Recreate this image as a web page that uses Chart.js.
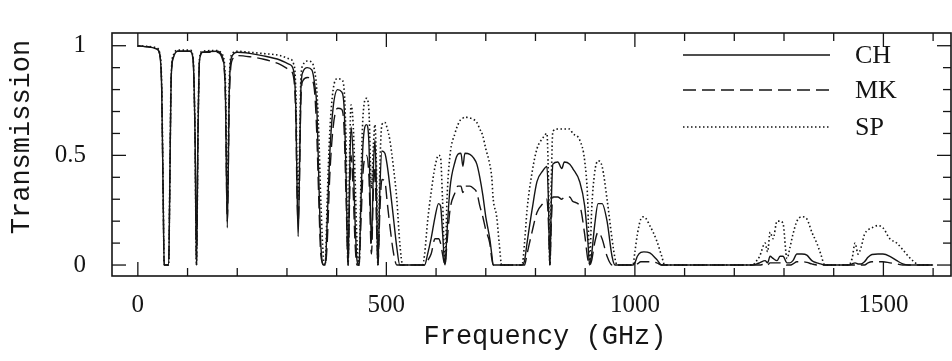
<!DOCTYPE html>
<html><head><meta charset="utf-8">
<script src="https://cdn.jsdelivr.net/npm/chart.js@4.4.1/dist/chart.umd.min.js"></script>
<style>html,body{margin:0;padding:0;background:#fff;}canvas{display:block;}</style>
</head><body>
<canvas id="c" width="952" height="361"></canvas>
<script>
// Frequency samples (GHz)
const freq = [0,20,38,44,48,51,53,62,64,67,72,80,105,111,115,118,121,124,130,160,170,176,180,184,189,200,225,250,286,305,313,318,320,322.5,325,328,332,341,350,356,360,364,368,374,377,381,386,393,402,410,415,419,423,426,429,433,437,441,445,449,453,460,465,470,474,477,480,483,487,491,497,502,507,514,521,527,533,573,577,583,590,598,605,609,613,618,622,628,638,644,650,654,658,668,675,682,688,694,700,708,712,715,722,727,732,773,778,783,793,803,815,823,826,829,832,835,845,853,858,869,875,889,899,905,909,913,919,926,934,944,954,960,964,996,1000,1005,1012,1018,1030,1044,1054,1060,1237,1245,1251,1262,1267,1272,1278,1286,1292,1298,1306,1312,1318,1326,1336,1346,1356,1366,1374,1382,1430,1437,1443,1449,1455,1462,1469,1477,1489,1499,1513,1527,1539,1550,1559,1573,1600];
// CH (solid)
const ch = [1.0,0.995,0.985,0.96,0.8,0.3,0,0,0.3,0.85,0.95,0.975,0.975,0.94,0.6,0,0.6,0.93,0.97,0.975,0.95,0.8,0.17,0.8,0.95,0.97,0.965,0.955,0.935,0.915,0.89,0.7,0.4,0.13,0.4,0.8,0.88,0.9,0.89,0.82,0.72,0.4,0.1,0,0,0.2,0.5,0.72,0.8,0.79,0.72,0.4,0,0.4,0.63,0.5,0.2,0.02,0,0.3,0.55,0.64,0.55,0.1,0.45,0.57,0.35,0,0.35,0.52,0.51,0.45,0.36,0.22,0.08,0,0,0,0,0.05,0.12,0.22,0.28,0.27,0.15,0,0.15,0.35,0.47,0.505,0.51,0.45,0.51,0.505,0.49,0.46,0.4,0.32,0.22,0.12,0.05,0,0,0,0,0,0.02,0.1,0.25,0.38,0.43,0.45,0.3,0,0.3,0.46,0.47,0.44,0.47,0.46,0.44,0.38,0.27,0.12,0,0.05,0.18,0.28,0.28,0.2,0.04,0,0,0,0.01,0.04,0.058,0.06,0.055,0.025,0,0,0,0.005,0.01,0.02,0.01,0.04,0.03,0.02,0.04,0.04,0.01,0.01,0.02,0.05,0.05,0.045,0.02,0.01,0.005,0,0,0.005,0.01,0.005,0.005,0.015,0.035,0.048,0.05,0.05,0.04,0.02,0.005,0,0,0,0];
// MK (dashed)
const mk = [1.0,0.995,0.985,0.96,0.8,0.3,0,0,0.3,0.85,0.95,0.975,0.975,0.94,0.6,0,0.6,0.93,0.97,0.97,0.94,0.78,0.2,0.75,0.93,0.955,0.95,0.94,0.915,0.89,0.86,0.65,0.35,0.2,0.35,0.75,0.84,0.855,0.845,0.78,0.6,0.3,0.05,0,0,0.1,0.4,0.63,0.715,0.71,0.62,0.3,0,0.3,0.5,0.35,0.1,0,0,0.2,0.42,0.5,0.4,0.05,0.35,0.45,0.2,0,0.25,0.39,0.38,0.28,0.18,0.06,0,0,0,0,0,0.02,0.05,0.12,0.12,0.1,0.05,0,0.1,0.25,0.33,0.36,0.36,0.33,0.36,0.36,0.35,0.33,0.27,0.22,0.16,0.1,0.03,0,0,0,0,0,0,0.05,0.15,0.24,0.28,0.3,0.2,0,0.2,0.31,0.31,0.3,0.31,0.31,0.29,0.27,0.14,0.03,0,0.02,0.1,0.15,0.12,0.04,0,0,0,0,0,0.005,0.015,0.015,0.015,0.01,0,0,0,0,0,0.005,0,0.01,0.01,0.01,0.01,0.01,0,0,0.005,0.015,0.015,0.012,0.005,0,0,0,0,0,0,0,0,0,0.01,0.015,0.015,0.015,0.01,0.005,0,0,0,0,0];
// SP (dotted)
const sp = [1.0,0.997,0.99,0.965,0.82,0.32,0,0,0.32,0.86,0.96,0.98,0.98,0.95,0.6,0,0.6,0.94,0.975,0.978,0.96,0.85,0.3,0.85,0.96,0.975,0.97,0.965,0.955,0.94,0.92,0.78,0.5,0.3,0.5,0.85,0.91,0.93,0.925,0.88,0.8,0.6,0.3,0.02,0,0.3,0.6,0.8,0.85,0.845,0.8,0.55,0,0.5,0.73,0.65,0.4,0.1,0,0.4,0.68,0.76,0.7,0.35,0.55,0.64,0.45,0,0.45,0.64,0.65,0.62,0.57,0.45,0.3,0.1,0,0,0.05,0.2,0.33,0.45,0.5,0.49,0.3,0,0.3,0.5,0.6,0.64,0.665,0.67,0.675,0.67,0.665,0.65,0.62,0.59,0.53,0.46,0.4,0.3,0.22,0.1,0,0,0.1,0.25,0.42,0.53,0.58,0.6,0.4,0,0.4,0.61,0.62,0.62,0.62,0.62,0.6,0.57,0.475,0.3,0,0.25,0.42,0.475,0.45,0.3,0.12,0.03,0,0,0.06,0.14,0.21,0.22,0.18,0.11,0.04,0,0,0.02,0.04,0.1,0.06,0.15,0.12,0.2,0.2,0.19,0.03,0.08,0.14,0.2,0.22,0.21,0.15,0.1,0.05,0,0,0.03,0.1,0.05,0.08,0.14,0.16,0.17,0.18,0.17,0.12,0.1,0.07,0.04,0.02,0,0];

const seriesNames = ['CH','MK','SP'];
const xTickValues = [0,500,1000,1500];
const xTickLabels = ['0','500','1000','1500'];
const yTickValues = [0,0.5,1];
const yTickLabels = ['0','0.5','1'];
const xMinorStep = 100, yMinorStep = 0.1;
const xTitle = 'Frequency (GHz)';
const yTitle = 'Transmission';

const INK = '#151515';
const dashes = [[], [13,6], [1.5,2.5]];
const pts = arr => freq.map((f,i)=>({x:f, y:arr[i]}));

const decor = {
  id:'decor',
  afterDatasetsDraw(chart){
    const {ctx, chartArea:a, scales:{x,y}} = chart;
    ctx.save();
    ctx.strokeStyle = INK;
    ctx.lineWidth = 1.6;
    ctx.strokeRect(a.left, a.top, a.right-a.left, a.bottom-a.top);
    ctx.lineWidth = 1.3;
    const seg=(x1,y1,x2,y2)=>{ctx.beginPath();ctx.moveTo(x1,y1);ctx.lineTo(x2,y2);ctx.stroke();};
    for(let v=0; v<=x.max; v+=xMinorStep){
      const px = x.getPixelForValue(v);
      const L = (v%500===0)?14:8;
      seg(px,a.bottom,px,a.bottom-L); seg(px,a.top,px,a.top+L);
    }
    for(let i=0;i*yMinorStep<=y.max+1e-9;i++){
      const py = y.getPixelForValue(i*yMinorStep);
      const L = (i%5===0)?14:8;
      seg(a.left,py,a.left+L,py); seg(a.right,py,a.right-L,py);
    }
    // legend
    const ds = chart.data.datasets;
    const lx0 = 683, lx1 = 830, ly = [55,90,127];
    ctx.font = '26px "Liberation Serif", serif';
    ctx.fillStyle = INK; ctx.textBaseline='middle'; ctx.textAlign='left';
    ds.forEach((d,i)=>{
      ctx.lineWidth = 1.5; ctx.setLineDash(d.borderDash||[]);
      seg(lx0, ly[i], lx1, ly[i]);
      ctx.setLineDash([]);
      ctx.fillText(d.label, 855, ly[i]+1);
    });
    // axis titles
    ctx.font = '27px "Liberation Mono", monospace';
    ctx.textAlign='center';
    ctx.fillText(xTitle, 545, 337);
    ctx.translate(22, 137); ctx.rotate(-Math.PI/2);
    ctx.fillText(yTitle, 0, 0);
    ctx.restore();
  }
};

new Chart(document.getElementById('c'), {
  type:'line',
  data:{datasets:[ch,mk,sp].map((arr,i)=>({
    label: seriesNames[i], data: pts(arr), borderColor: INK, borderWidth: i===2?1.6:1.4,
    borderDash: dashes[i], pointRadius:0, fill:false, cubicInterpolationMode:'monotone'
  }))},
  options:{
    responsive:false, animation:false, devicePixelRatio:1,
    layout:{padding:{top:10,right:1,left:0,bottom:0}},
    plugins:{legend:{display:false}, tooltip:{enabled:false}},
    scales:{
      x:{type:'linear', min:-52, max:1636,
        grid:{display:false}, border:{display:false},
        afterBuildTicks:s=>{s.ticks = xTickValues.map(v=>({value:v}));},
        afterFit:s=>{s.height=85;},
        ticks:{color:INK, padding:6, maxRotation:0,
          callback:(v)=>xTickLabels[xTickValues.indexOf(v)],
          font:{family:'"Liberation Serif", serif', size:25}}},
      y:{type:'linear', min:-0.05, max:1.058,
        grid:{display:false}, border:{display:false},
        afterBuildTicks:s=>{s.ticks = yTickValues.map(v=>({value:v}));},
        afterFit:s=>{s.width=112;},
        ticks:{color:INK, padding:18,
          callback:(v)=>yTickLabels[yTickValues.indexOf(v)],
          font:{family:'"Liberation Serif", serif', size:25}}}
    }
  },
  plugins:[decor]
});
</script>
</body></html>
